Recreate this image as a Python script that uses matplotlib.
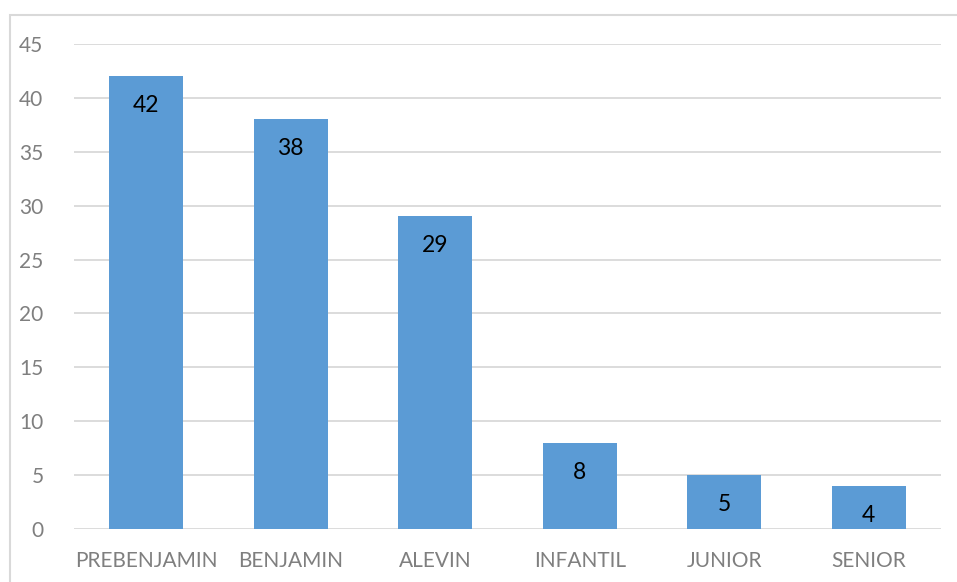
import matplotlib
matplotlib.use('Agg')
import matplotlib.pyplot as plt
from matplotlib.patches import Rectangle

categories = ["PREBENJAMIN", "BENJAMIN", "ALEVIN", "INFANTIL", "JUNIOR", "SENIOR"]
values = [42, 38, 29, 8, 5, 4]
yticks = [0, 5, 10, 15, 20, 25, 30, 35, 40, 45]

plt.rcParams['font.family'] = ['Lato', 'DejaVu Sans']

fig = plt.figure(figsize=(9.57, 5.82), dpi=100)
ax = fig.add_axes([74 / 957, 1 - 529 / 582, (941 - 74) / 957, (529 - 44) / 582])

# outer chart border (only top and left visible)
fig.patches.append(Rectangle((10 / 957, -0.1), 1.2, 1 - 15 / 582 + 0.1,
                             transform=fig.transFigure, fill=False,
                             edgecolor='#d9d9d9', linewidth=1.5))

x = range(len(categories))
bars = ax.bar(x, values, width=0.51, color='#5b9bd5', zorder=3)

for b, v in zip(bars, values):
    ax.text(b.get_x() + b.get_width() / 2, v - 1.75, str(v),
            ha='center', va='top', fontsize=16.5, color='black', zorder=4)

ax.set_xlim(-0.5, len(categories) - 0.5)
ax.set_ylim(0, 45)
ax.set_yticks(yticks)
ax.set_xticks(list(x))
ax.set_xticklabels(categories)
ax.yaxis.grid(True, color='#d9d9d9', linewidth=1.3, zorder=0)
ax.tick_params(axis='both', length=0, labelsize=15, labelcolor='#7f7f7f')
ax.tick_params(axis='y', pad=22)
ax.tick_params(axis='x', pad=16)
for s in ax.spines.values():
    s.set_visible(False)

fig.savefig('out.png', dpi=100)
